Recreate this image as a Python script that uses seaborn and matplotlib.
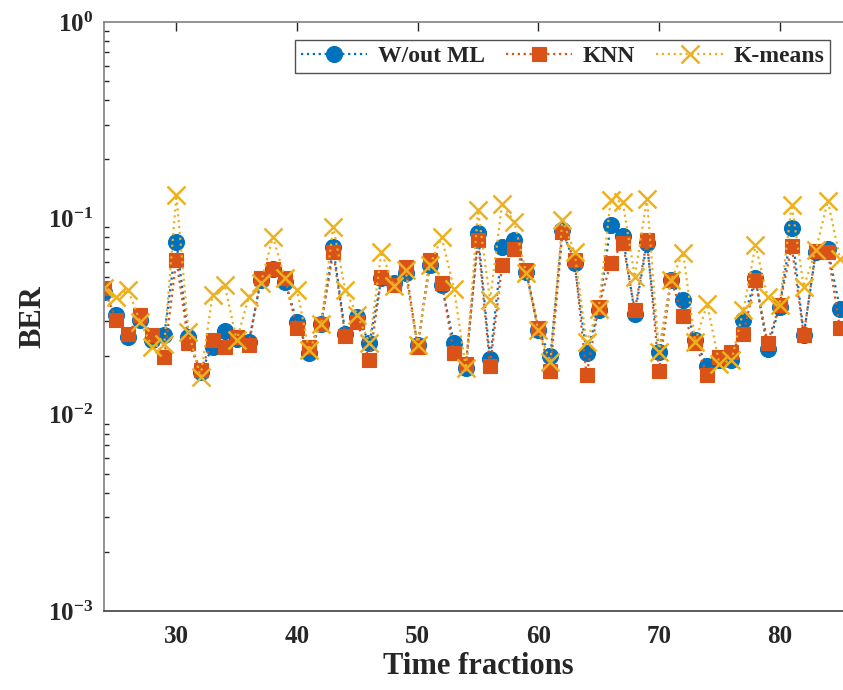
import matplotlib
matplotlib.use("Agg")
import matplotlib.pyplot as plt
import seaborn as sns
import numpy as np
import pandas as pd
from matplotlib.ticker import LogLocator, NullFormatter, FixedLocator

time_fractions = list(range(24, 86))

wout_ml = [0.042, 0.0321, 0.0249, 0.0305, 0.0239, 0.0254, 0.0759, 0.0249, 0.0165, 0.0221,
           0.0266, 0.0244, 0.0235, 0.0484, 0.0555, 0.0475, 0.0297, 0.0205, 0.0291, 0.0711,
           0.0259, 0.0315, 0.0232, 0.0494, 0.0466, 0.0524, 0.0226, 0.0577, 0.0457, 0.0232,
           0.0172, 0.0838, 0.0191, 0.0711, 0.0774, 0.0534, 0.0269, 0.0199, 0.0871, 0.0589,
           0.0205, 0.0340, 0.0923, 0.0811, 0.0327, 0.0745, 0.0209, 0.0484, 0.0383, 0.0239,
           0.0177, 0.0189, 0.0189, 0.0305, 0.0494, 0.0217, 0.0354, 0.0888, 0.0254, 0.0675,
           0.0694, 0.0347]

knn = [0.044, 0.0303, 0.0259, 0.0321, 0.0254, 0.0197, 0.0617, 0.0232, 0.0168, 0.0239,
       0.0220, 0.0249, 0.0226, 0.0494, 0.0555, 0.0494, 0.0275, 0.0221, 0.0289, 0.0675,
       0.0251, 0.0297, 0.0189, 0.0503, 0.0457, 0.0566, 0.0221, 0.0617, 0.0469, 0.0205,
       0.0182, 0.0774, 0.0177, 0.0577, 0.0694, 0.0545, 0.0275, 0.0167, 0.0853, 0.0612,
       0.0159, 0.0354, 0.0593, 0.0750, 0.0340, 0.0774, 0.0167, 0.0484, 0.0318, 0.0232,
       0.0159, 0.0197, 0.0209, 0.0259, 0.0484, 0.0232, 0.0361, 0.0722, 0.0254, 0.0683,
       0.0675, 0.0275]

kmeans = [0.044, 0.0398, 0.0431, 0.0297, 0.0221, 0.0230, 0.131, 0.0264, 0.0156, 0.0406,
          0.0457, 0.0239, 0.0398, 0.0469, 0.0805, 0.0494, 0.0431, 0.0213, 0.0289, 0.0905,
          0.0431, 0.0321, 0.0232, 0.0675, 0.0451, 0.0545, 0.0226, 0.0577, 0.0799, 0.0439,
          0.0172, 0.110, 0.0383, 0.119, 0.096, 0.0524, 0.0269, 0.0186, 0.098, 0.0675,
          0.0235, 0.0347, 0.124, 0.121, 0.0503, 0.126, 0.0209, 0.0484, 0.0667, 0.0235,
          0.0365, 0.0182, 0.0189, 0.0340, 0.0730, 0.0398, 0.0361, 0.117, 0.0448, 0.0689,
          0.123, 0.0624]

series_names = ["W/out ML", "KNN", "K-means"]
x_ticks = [30, 40, 50, 60, 70, 80]

sns.set_style("white")
plt.rcParams["font.family"] = ["Liberation Serif", "DejaVu Serif"]
plt.rcParams["font.weight"] = "bold"
plt.rcParams["mathtext.fontset"] = "custom"
plt.rcParams["mathtext.rm"] = "Liberation Serif:bold"
plt.rcParams["mathtext.bf"] = "Liberation Serif:bold"
plt.rcParams["mathtext.it"] = "Liberation Serif:bold"
plt.rcParams["mathtext.default"] = "regular"

fig = plt.figure(figsize=(8.43, 6.90), dpi=100)
ax = fig.add_axes([104 / 843, 79 / 690, 748 / 843, 589 / 690])

colors = ["#0072BD", "#D95319", "#EDB120"]
markers = ["o", "s", "x"]
msizes = [11.5, 9.5, 13]
data = [wout_ml, knn, kmeans]

for vals, name, c, m, ms in zip(data, series_names, colors, markers, msizes):
    kw = dict(marker=m, markersize=ms, color=c, linestyle=":", linewidth=1.6,
              markerfacecolor=c, markeredgecolor=c)
    if m == "x":
        kw["markeredgewidth"] = 1.8
    else:
        kw["markeredgewidth"] = 0.8
    sns.lineplot(x=time_fractions, y=vals, ax=ax, label=name, **kw)

ax.set_yscale("log")
ax.set_ylim(1e-3, 1)
ax.set_xlim(24, 86)
ax.xaxis.set_major_locator(FixedLocator(x_ticks))
ax.yaxis.set_major_locator(LogLocator(base=10, numticks=10))
ax.yaxis.set_minor_locator(LogLocator(base=10, subs=np.arange(2, 10), numticks=20))
ax.yaxis.set_minor_formatter(NullFormatter())

ax.tick_params(axis="both", which="major", direction="in", length=6.5, width=1.0,
               color="#262626", labelsize=18, top=True, right=True)
ax.tick_params(axis="x", which="major", pad=10)
ax.tick_params(axis="y", which="major", pad=8)
ax.tick_params(axis="y", which="minor", direction="in", length=3.6, width=1.0,
               color="#262626", right=True, left=True)
ax.tick_params(axis="x", which="minor", bottom=False, top=False)
for lab in ax.get_xticklabels() + ax.get_yticklabels():
    lab.set_fontweight("bold")

for side in ["left", "top"]:
    ax.spines[side].set_color("#808080")
    ax.spines[side].set_linewidth(1.2)
ax.spines["bottom"].set_color("#404040")
ax.spines["bottom"].set_linewidth(1.2)
ax.spines["right"].set_visible(False)

ax.set_xlabel("Time fractions", fontsize=22, fontweight="bold", labelpad=3)
ax.set_ylabel("BER", fontsize=22, fontweight="bold", labelpad=0)

leg = ax.legend(loc="upper right", bbox_to_anchor=(830 / 843, 1 - 40 / 690),
                bbox_transform=fig.transFigure, ncol=3, fontsize=17,
                handlelength=2.8, columnspacing=0.9, handletextpad=0.45,
                frameon=True, fancybox=False, borderpad=0.25, borderaxespad=0)
leg.get_frame().set_edgecolor("#262626")
leg.get_frame().set_linewidth(1.0)
for t in leg.get_texts():
    t.set_fontweight("bold")

fig.savefig("out.png", dpi=100)
